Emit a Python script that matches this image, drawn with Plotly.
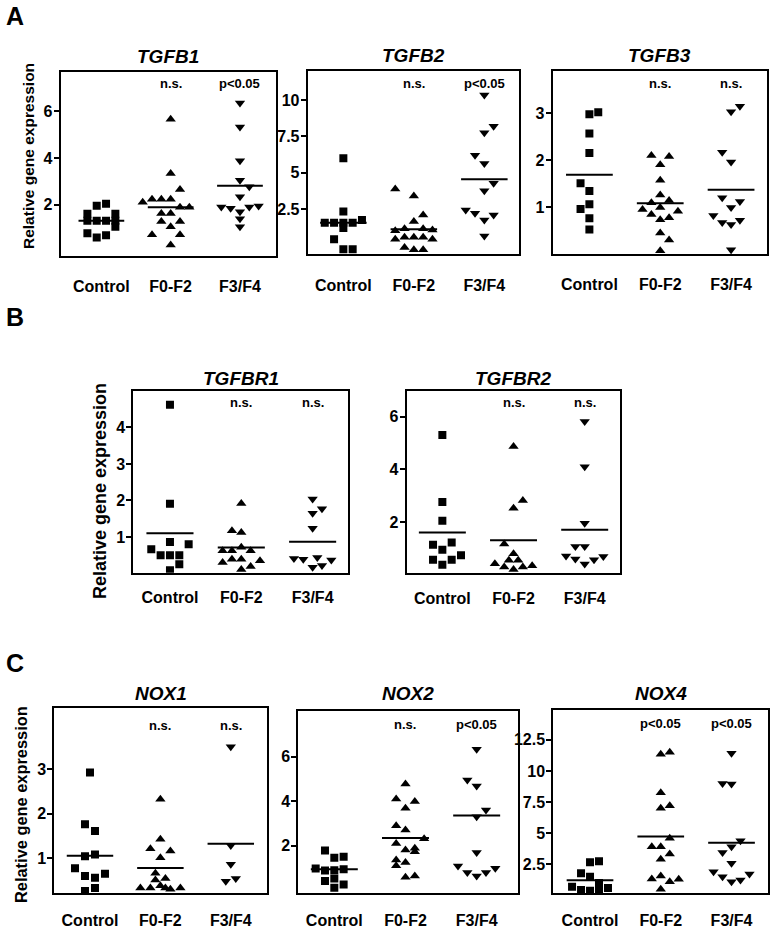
import plotly.graph_objects as go

W, H = 773, 928
FONT = "Liberation Sans, Arial, Helvetica, sans-serif"

GROUPS = ["Control", "F0-F2", "F3/F4"]
SYMBOLS = ["square", "triangle-up", "triangle-down"]

# ---------------- TGFB1 ----------------
TGFB1_CONTROL = [1.96, 2.04, 1.62, 1.62, 1.32, 1.32, 1.32, 1.32, 1.06, 0.78, 0.60, 0.70]
TGFB1_CONTROL_COL = [-0.5, 0.5, -1.5, 1.5, -1.5, -0.5, 0.5, 1.5, 1.5, -1.5, -0.5, 0.5]
TGFB1_F02 = [5.66, 3.34, 2.65, 2.11, 2.23, 2.23, 2.23, 1.89, 1.89, 1.63, 1.63, 1.28, 1.28, 1.06, 0.72, 0.72, 0.28]
TGFB1_F02_COL = [0, 0, 1, -3, -2, -1, 0, 1, 2, -1, 0, -1, 1, 0, -2, 1, 0]
TGFB1_F34 = [6.35, 5.33, 3.88, 3.05, 2.77, 2.34, 1.90, 1.85, 1.90, 1.95, 1.70, 1.40, 1.06]
TGFB1_F34_COL = [0, 0, 0, 0, 1, 0, -2, -1, 1, 2, 0, 0, 0]
TGFB1_MEAN = [1.32, 1.89, 2.81]
TGFB1_SIG = ["", "n.s.", "p<0.05"]
TGFB1_TICKS = [2, 4, 6]
TGFB1_TICKTEXT = ["2", "4", "6"]

# ---------------- TGFB2 ----------------
TGFB2_CONTROL = [6.0, 2.32, 1.56, 1.56, 1.56, 1.56, 1.74, 1.19, 0.41, -0.28, -0.28]
TGFB2_CONTROL_COL = [0, 0, -2, -1, 0, 1, 2, 0, -1, 0, 1]
TGFB2_F02 = [3.88, 3.39, 2.09, 1.63, 1.00, 1.14, 1.14, 1.05, 0.41, 0.55, 0.55, 0.55, 0.41, -0.15, -0.30, -0.30]
TGFB2_F02_COL = [-2, 0, 1, 0, -2, -1, 1, 2, -2, -1, 0, 1, 2, -1, 0, 1]
TGFB2_F34 = [10.34, 7.75, 8.20, 6.20, 5.64, 4.27, 3.76, 2.43, 2.20, 1.74, 2.09, 0.64]
TGFB2_F34_COL = [0, 0, 1, -1, 0, 1, 0, -2, -1, 0, 1, 0]
TGFB2_MEAN = [1.56, 1.10, 4.54]
TGFB2_SIG = ["", "n.s.", "p<0.05"]
TGFB2_TICKS = [2.5, 5, 7.5, 10]
TGFB2_TICKTEXT = ["2.5", "5", "7.5", "10"]

# ---------------- TGFB3 ----------------
TGFB3_CONTROL = [2.98, 3.02, 2.57, 2.15, 1.51, 1.34, 1.06, 0.96, 0.76, 0.52]
TGFB3_CONTROL_COL = [0, 1, 0, 0, -1, 0, 0, -1, 0, 0]
TGFB3_F02 = [2.10, 2.08, 1.90, 1.57, 1.26, 1.09, 1.14, 0.95, 0.99, 0.91, 0.84, 0.73, 0.77, 0.45, 0.30, 0.07]
TGFB3_F02_COL = [-1, 1, 0, 0, 0, -1, 1, -2, 0, 2, -1, 0, 1, 0, 1, 0]
TGFB3_F34 = [3.03, 3.15, 2.17, 1.96, 1.20, 1.12, 0.99, 0.82, 0.67, 0.63, 0.72, 0.09]
TGFB3_F34_COL = [0, 1, -1, 0, -1, 1, 0, -2, -1, 0, 1, 0]
TGFB3_MEAN = [1.69, 1.08, 1.37]
TGFB3_SIG = ["", "n.s.", "n.s."]
TGFB3_TICKS = [1, 2, 3]
TGFB3_TICKTEXT = ["1", "2", "3"]

# ---------------- TGFBR1 ----------------
TGFBR1_CONTROL = [4.62, 1.91, 0.86, 0.80, 0.66, 0.50, 0.50, 0.50, 0.25, 0.09]
TGFBR1_CONTROL_COL = [0, 0, 0, 2, -2, -1, 0, 1, 1, 0]
TGFBR1_F02 = [1.92, 1.17, 1.12, 0.62, 0.62, 0.72, 0.62, 0.30, 0.39, 0.39, 0.35, 0.11, 0.19]
TGFBR1_F02_COL = [0, -1, 0, -2, -1, 0, 1, -2, -1, 0, 2, 0, 1]
TGFBR1_F34 = [2.04, 1.65, 1.77, 1.24, 0.41, 0.39, 0.44, 0.37, 0.17, 0.22]
TGFBR1_F34_COL = [0, 0, 1, 0, -2, -1, 0.5, 2, 0, 1]
TGFBR1_MEAN = [1.10, 0.71, 0.87]
TGFBR1_SIG = ["", "n.s.", "n.s."]
TGFBR1_TICKS = [1, 2, 3, 4]
TGFBR1_TICKTEXT = ["1", "2", "3", "4"]

# ---------------- TGFBR2 ----------------
TGFBR2_CONTROL = [5.30, 2.76, 2.05, 1.14, 1.23, 0.95, 0.74, 0.57, 0.57, 0.38]
TGFBR2_CONTROL_COL = [0, 0, 0, -1, 1, 0, 2, -1, 1, 0]
TGFBR2_F02 = [4.87, 2.82, 2.53, 1.17, 0.80, 0.55, 0.55, 0.42, 0.30, 0.30, 0.35, 0.20]
TGFBR2_F02_COL = [0, 1, 0, -1, 0, -0.5, 0.5, -2, -1, 1, 2, 0]
TGFBR2_F34 = [5.81, 4.10, 1.96, 1.08, 1.08, 0.72, 0.60, 0.41, 0.57, 0.70]
TGFBR2_F34_COL = [0, 0, 0, -1, 0, -2, -1, 0, 1, 2]
TGFBR2_MEAN = [1.61, 1.31, 1.71]
TGFBR2_SIG = ["", "n.s.", "n.s."]
TGFBR2_TICKS = [2, 4, 6]
TGFBR2_TICKTEXT = ["2", "4", "6"]

# ---------------- NOX1 ----------------
NOX1_CONTROL = [2.92, 1.76, 1.61, 1.04, 1.08, 0.77, 0.60, 0.56, 0.65, 0.33, 0.26]
NOX1_CONTROL_COL = [0, -0.5, 0.5, -0.5, 0.5, -1.5, -0.5, 0.5, 1.5, 0.5, -0.5]
NOX1_F02 = [2.32, 1.42, 1.21, 1.16, 1.01, 0.66, 0.54, 0.51, 0.33, 0.33, 0.38, 0.33, 0.30, 0.33]
NOX1_F02_COL = [0, 0, -1, 1, 0, -0.5, 0.5, -0.5, -2, -1, 0, 0.5, 1, 2]
NOX1_F34 = [3.50, 1.28, 0.86, 0.48, 0.54]
NOX1_F34_COL = [0, 0, 0, -0.5, 0.5]
NOX1_MEAN = [1.05, 0.78, 1.32]
NOX1_SIG = ["", "n.s.", "n.s."]
NOX1_TICKS = [1, 2, 3]
NOX1_TICKTEXT = ["1", "2", "3"]

# ---------------- NOX2 ----------------
NOX2_CONTROL = [1.78, 1.46, 1.50, 0.97, 0.88, 0.90, 0.94, 0.41, 0.53, 0.26, 0.11]
NOX2_CONTROL_COL = [-1, 0, 1, -2, -1, 0, 1, -1, 0, 1, 0]
NOX2_F02 = [4.77, 4.10, 3.98, 3.68, 2.90, 2.70, 2.31, 2.10, 1.80, 1.88, 1.73, 1.36, 1.10, 1.24, 0.58, 0.64]
NOX2_F02_COL = [0, -1, 1, 0, -1, 0, 2, -1, 0, 1, 1, -1, -1, 0, 0, 1]
NOX2_F34 = [6.33, 4.95, 4.68, 3.60, 3.30, 1.69, 1.09, 0.80, 0.64, 0.80, 0.98]
NOX2_F34_COL = [0, -1, 0, 1, 0, 0, -2, -1, 0, 1, 2]
NOX2_MEAN = [0.94, 2.34, 3.36]
NOX2_SIG = ["", "n.s.", "p<0.05"]
NOX2_TICKS = [2, 4, 6]
NOX2_TICKTEXT = ["2", "4", "6"]

# ---------------- NOX4 ----------------
NOX4_CONTROL = [2.66, 2.74, 1.78, 1.50, 1.00, 0.70, 0.44, 0.38, 0.44, 0.60]
NOX4_CONTROL_COL = [0, 1, -1, 0, 1, -2, -1, 0, 1, 2]
NOX4_F02 = [11.35, 11.50, 8.26, 7.00, 7.20, 4.60, 3.92, 3.92, 3.33, 2.90, 1.32, 1.56, 1.10, 1.30, 0.49]
NOX4_F02_COL = [0, 1, 0, 0, 1, 1, -1, 0, 1, 0, -1, 0, 1, 2, 0]
NOX4_F34 = [11.43, 9.00, 8.96, 4.40, 3.92, 3.44, 2.58, 1.91, 1.50, 1.10, 1.24, 1.72]
NOX4_F34_COL = [0, -1, 0, 1, 0, -1, 0, -2, -1, 0, 1, 2]
NOX4_MEAN = [1.21, 4.73, 4.24]
NOX4_SIG = ["", "p<0.05", "p<0.05"]
NOX4_TICKS = [2.5, 5, 7.5, 10, 12.5]
NOX4_TICKTEXT = ["2.5", "5", "7.5", "10", "12.5"]


def fx(p):
    return p / W


def fy(p):
    return 1 - p / H


# layout of each panel (pixel boxes etc.)
PANELS = [
    dict(name="TGFB1", box=(60.7, 72, 276, 255.7), xr=(-0.587, 2.52), yr=(-0.18, 7.68), step=0.1346,
         data=[(TGFB1_CONTROL, TGFB1_CONTROL_COL), (TGFB1_F02, TGFB1_F02_COL), (TGFB1_F34, TGFB1_F34_COL)],
         mean=TGFB1_MEAN, sig=TGFB1_SIG, ticks=TGFB1_TICKS, ticktext=TGFB1_TICKTEXT,
         title_y=57, sig_y=83, standoff=15),
    dict(name="TGFB2", box=(307.7, 71, 519.3, 254.3), xr=(-0.506, 2.496), yr=(-0.62, 12.0), step=0.132,
         data=[(TGFB2_CONTROL, TGFB2_CONTROL_COL), (TGFB2_F02, TGFB2_F02_COL), (TGFB2_F34, TGFB2_F34_COL)],
         mean=TGFB2_MEAN, sig=TGFB2_SIG, ticks=TGFB2_TICKS, ticktext=TGFB2_TICKTEXT,
         title_y=55, sig_y=83, standoff=15),
    dict(name="TGFB3", box=(552.7, 71, 766.7, 254), xr=(-0.518, 2.503), yr=(0.0, 3.9), step=0.125,
         data=[(TGFB3_CONTROL, TGFB3_CONTROL_COL), (TGFB3_F02, TGFB3_F02_COL), (TGFB3_F34, TGFB3_F34_COL)],
         mean=TGFB3_MEAN, sig=TGFB3_SIG, ticks=TGFB3_TICKS, ticktext=TGFB3_TICKTEXT,
         title_y=55, sig_y=83, standoff=15),
    dict(name="TGFBR1", box=(133.3, 391, 348.3, 572.7), xr=(-0.514, 2.5), yr=(0.02, 5.0), step=0.131,
         data=[(TGFBR1_CONTROL, TGFBR1_CONTROL_COL), (TGFBR1_F02, TGFBR1_F02_COL), (TGFBR1_F34, TGFBR1_F34_COL)],
         mean=TGFBR1_MEAN, sig=TGFBR1_SIG, ticks=TGFBR1_TICKS, ticktext=TGFBR1_TICKTEXT,
         title_y=378, sig_y=402, standoff=9),
    dict(name="TGFBR2", box=(406.7, 391, 620, 573.3), xr=(-0.501, 2.496), yr=(0.06, 6.97), step=0.131,
         data=[(TGFBR2_CONTROL, TGFBR2_CONTROL_COL), (TGFBR2_F02, TGFBR2_F02_COL), (TGFBR2_F34, TGFBR2_F34_COL)],
         mean=TGFBR2_MEAN, sig=TGFBR2_SIG, ticks=TGFBR2_TICKS, ticktext=TGFBR2_TICKTEXT,
         title_y=378, sig_y=402, standoff=9),
    dict(name="NOX1", box=(54.3, 708.3, 266.7, 893.3), xr=(-0.507, 2.51), yr=(0.21, 4.36), step=0.142,
         data=[(NOX1_CONTROL, NOX1_CONTROL_COL), (NOX1_F02, NOX1_F02_COL), (NOX1_F34, NOX1_F34_COL)],
         mean=NOX1_MEAN, sig=NOX1_SIG, ticks=NOX1_TICKS, ticktext=NOX1_TICKTEXT,
         title_y=693, sig_y=725, standoff=11),
    dict(name="NOX2", box=(298.3, 711, 518.3, 893.3), xr=(-0.506, 2.585), yr=(-0.14, 8.05), step=0.131,
         data=[(NOX2_CONTROL, NOX2_CONTROL_COL), (NOX2_F02, NOX2_F02_COL), (NOX2_F34, NOX2_F34_COL)],
         mean=NOX2_MEAN, sig=NOX2_SIG, ticks=NOX2_TICKS, ticktext=NOX2_TICKTEXT,
         title_y=693, sig_y=724, standoff=11),
    dict(name="NOX4", box=(553.3, 710, 768.3, 893.3), xr=(-0.519, 2.52), yr=(0.17, 14.9), step=0.127,
         data=[(NOX4_CONTROL, NOX4_CONTROL_COL), (NOX4_F02, NOX4_F02_COL), (NOX4_F34, NOX4_F34_COL)],
         mean=NOX4_MEAN, sig=NOX4_SIG, ticks=NOX4_TICKS, ticktext=NOX4_TICKTEXT,
         title_y=693, sig_y=723, standoff=11),
]

MEAN_HALF = 0.33
MARKER_SIZES = [8, 9, 9]

fig = go.Figure()
annotations = []
layout_axes = {}

for i, p in enumerate(PANELS):
    n = i + 1
    xa = "x" if n == 1 else f"x{n}"
    ya = "y" if n == 1 else f"y{n}"
    x0, y0, x1, y1 = p["box"]
    for g, ((vals, cols), sym) in enumerate(zip(p["data"], SYMBOLS)):
        xs = [g + c * p["step"] for c in cols]
        fig.add_trace(go.Scatter(
            x=xs, y=vals, mode="markers", xaxis=xa, yaxis=ya,
            marker=dict(symbol=sym, size=MARKER_SIZES[g], color="black", line=dict(width=0)),
            showlegend=False, hoverinfo="y"))
        m = p["mean"][g]
        fig.add_trace(go.Scatter(
            x=[g - MEAN_HALF, g + MEAN_HALF], y=[m, m], mode="lines", xaxis=xa, yaxis=ya,
            line=dict(color="black", width=2), showlegend=False, hoverinfo="skip"))
        if p["sig"][g]:
            annotations.append(dict(
                x=g, xref=xa, y=fy(p["sig_y"]), yref="paper", text=f"<b>{p['sig'][g]}</b>",
                showarrow=False, font=dict(family=FONT, size=13, color="black"),
                xanchor="center", yanchor="middle"))
    axkey = "xaxis" if n == 1 else f"xaxis{n}"
    aykey = "yaxis" if n == 1 else f"yaxis{n}"
    layout_axes[axkey] = dict(
        domain=[fx(x0), fx(x1)], range=list(p["xr"]), anchor=ya, automargin=False,
        tickmode="array", tickvals=[0, 1, 2], ticktext=[f"<b>{t}</b>" for t in GROUPS], ticks="",
        ticklabelstandoff=p["standoff"], fixedrange=True,
        showline=True, mirror=True, linecolor="black", linewidth=2,
        showgrid=False, zeroline=False,
        tickfont=dict(family=FONT, size=16, color="black"))
    layout_axes[aykey] = dict(
        domain=[fy(y1), fy(y0)], range=list(p["yr"]), anchor=xa, automargin=False,
        tickmode="array", tickvals=p["ticks"], ticktext=[f"<b>{t}</b>" for t in p["ticktext"]],
        ticks="outside", ticklen=5, tickwidth=2, tickcolor="black", ticklabelstandoff=-2,
        showline=True, mirror=True, linecolor="black", linewidth=2, fixedrange=True,
        showgrid=False, zeroline=False,
        tickfont=dict(family=FONT, size=16, color="black"))
    annotations.append(dict(
        x=fx((x0 + x1) / 2), xref="paper", y=fy(p["title_y"]), yref="paper",
        text=f"<b><i>{p['name']}</i></b>", showarrow=False,
        font=dict(family=FONT, size=19, color="black"), xanchor="center", yanchor="middle"))

# panel letters
for letter, (lx, ly) in zip(["A", "B", "C"], [(15, 16), (15, 317), (15, 663)]):
    annotations.append(dict(
        x=fx(lx), xref="paper", y=fy(ly), yref="paper", text=f"<b>{letter}</b>",
        showarrow=False, font=dict(family=FONT, size=25, color="black"),
        xanchor="center", yanchor="middle"))

# y-axis titles
for (tx, ty, size) in [(28, 156, 15.5), (100, 491, 18), (21, 805, 16.4)]:
    annotations.append(dict(
        x=fx(tx), xref="paper", y=fy(ty), yref="paper", text="<b>Relative gene expression</b>",
        textangle=-90, showarrow=False, font=dict(family=FONT, size=size, color="black"),
        xanchor="center", yanchor="middle"))

fig.update_layout(
    width=W, height=H, margin=dict(l=0, r=0, t=0, b=0, autoexpand=False),
    paper_bgcolor="white", plot_bgcolor="white",
    annotations=annotations, showlegend=False,
    **layout_axes)

fig.write_html(
    "out.html",
    config={"displayModeBar": False, "staticPlot": False},
    post_script="document.body.style.margin='0';document.body.style.padding='0';"
                "document.body.style.overflow='hidden';")
